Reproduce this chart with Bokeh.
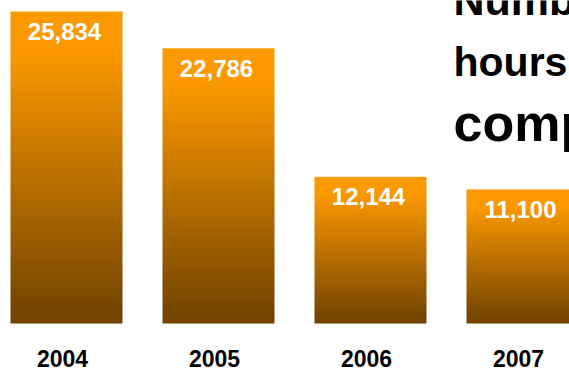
import numpy as np
from bokeh.plotting import figure
from bokeh.models import Range1d, Label
from bokeh.embed import file_html
from bokeh.resources import INLINE
from bokeh.core.properties import value

# ---- data ----
years = ["2004", "2005", "2006", "2007"]
hours = [25834, 22786, 12144, 11100]
title_lines = ["Number of", "hours", "completed"]

top_rgb = (253, 153, 0)
bottom_rgb = (118, 70, 0)

FONT = "Liberation Sans"
idx = list(range(len(years)))

p = figure(width=569, height=371, output_backend="svg", toolbar_location=None,
           x_range=Range1d(-0.4342, 3.3092), y_range=Range1d(-3974, 26745),
           x_axis_location=None, y_axis_location=None,
           min_border_left=0, min_border_right=0, min_border_top=0, min_border_bottom=0)
p.xgrid.visible = False
p.ygrid.visible = False
p.outline_line_color = None
p.background_fill_color = "white"
p.border_fill_color = "white"

# gradient image for bars (row 0 = bottom)
N = 320
f_top = 1.0 - (np.arange(N) + 0.5) / N  # fraction from top for each row
t = np.clip((f_top - 0.12) / (0.95 - 0.12), 0, 1)
img = np.zeros((N, 1), dtype=np.uint32)
view = img.view(dtype=np.uint8).reshape((N, 1, 4))
for k in range(3):
    view[:, 0, k] = np.round(top_rgb[k] + (bottom_rgb[k] - top_rgb[k]) * t).astype(np.uint8)
view[:, 0, 3] = 255

bw = 112 / 152
p.image_rgba(image=[img] * len(hours), x=[i - bw / 2 for i in idx], y=[0] * len(hours),
             dw=[bw] * len(hours), dh=hours)

# value labels inside bars
p.text(x=idx, y=hours, text=[f"{v:,}" for v in hours], x_offset=-2, y_offset=20,
       text_align="center", text_baseline="alphabetic", text_color="white",
       text_font=value(FONT), text_font_style="bold", text_font_size="24px")

# category labels below bars
p.text(x=idx, y=[0] * len(years), text=years, x_offset=-4, y_offset=35,
       text_align="center", text_baseline="alphabetic", text_color="black",
       text_font=value(FONT), text_font_style="bold", text_font_size="23px")

# title lines
sizes = ["43px", "41px", "52px"]
baselines = [15, 77, 138]
for line, s, b in zip(title_lines, sizes, baselines):
    p.add_layout(Label(x=453, y=371 - (b - 16), x_units="screen", y_units="screen", text=line,
                       text_font=FONT, text_font_style="bold", text_font_size=s,
                       text_color="black", text_baseline="alphabetic"))

open("out.html", "w").write(file_html(p, INLINE))
